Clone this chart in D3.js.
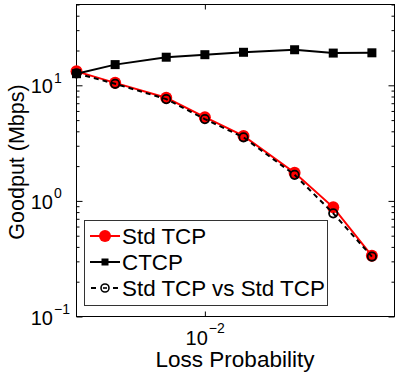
<!DOCTYPE html>
<html>
<head>
<meta charset="utf-8">
<script src="https://cdn.jsdelivr.net/npm/d3@7"></script>
<style>
  body { margin: 0; background: #fff; }
  svg { display: block; font-family: "Liberation Sans", Arial, Helvetica, sans-serif; }
</style>
</head>
<body>
<div id="chart"></div>
<script>
// data
const lossProb = [0.001, 0.002, 0.005, 0.01, 0.02, 0.05, 0.1, 0.2];
const stdTcp = [13.2, 10.5, 7.8, 5.3, 3.65, 1.75, 0.88, 0.335];
const ctcp = [12.6, 15.1, 17.5, 18.4, 19.3, 20.3, 19.0, 19.1];
const stdVsStd = [12.7, 10.3, 7.6, 5.1, 3.55, 1.68, 0.78, 0.33];
const xTickVals = [0.01];
const yTickVals = [0.1, 1, 10];
const seriesNames = ['Std TCP', 'CTCP', 'Std TCP vs Std TCP'];

const width = 399, height = 373;
const box = { left: 76.5, right: 394.5, top: 4.5, bottom: 316.5 };

const svg = d3.select('#chart')
  .append('svg')
  .attr('width', width)
  .attr('height', height);

const x = d3.scaleLog().domain([0.001, 0.3]).range([box.left, box.right]);
const y = d3.scaleLog().domain([0.1, 50]).range([box.bottom, box.top]);

// ticks (inward, mirrored on the opposite side)
const isMajor = v => Math.abs(Math.log10(v) - Math.round(Math.log10(v))) < 1e-9;
const yMinor = y.ticks().filter(v => !isMajor(v));

function tickGroup(axis, tx, ty) {
  const g = svg.append('g')
    .attr('transform', `translate(${tx},${ty})`)
    .call(axis);
  g.select('.domain').remove();
  g.selectAll('text').remove();
  g.selectAll('line').attr('stroke', '#000').attr('stroke-width', 1);
  return g;
}

tickGroup(d3.axisLeft(y).tickValues(yTickVals).tickSize(-6), box.left, 0);
tickGroup(d3.axisLeft(y).tickValues(yMinor).tickSize(-3), box.left, 0);
tickGroup(d3.axisRight(y).tickValues(yTickVals).tickSize(-6), box.right, 0);
tickGroup(d3.axisRight(y).tickValues(yMinor).tickSize(-3), box.right, 0);
tickGroup(d3.axisBottom(x).tickValues(xTickVals).tickSize(-5), 0, box.bottom);
tickGroup(d3.axisTop(x).tickValues(xTickVals).tickSize(-5), 0, box.top);

// box
svg.append('rect')
  .attr('x', box.left)
  .attr('y', box.top)
  .attr('width', box.right - box.left)
  .attr('height', box.bottom - box.top)
  .attr('fill', 'none')
  .attr('stroke', '#000')
  .attr('stroke-width', 1);

// y tick labels 10^n
yTickVals.forEach(v => {
  const yy = y(v);
  svg.append('text')
    .attr('x', 53)
    .attr('y', yy + 8)
    .attr('text-anchor', 'end')
    .style('font-size', '20px')
    .text('10');
  svg.append('text')
    .attr('x', 54)
    .attr('y', yy - 2.5)
    .style('font-size', '14px')
    .text(String(Math.round(Math.log10(v))).replace('-', '\u2212'));
});

// x tick labels
xTickVals.forEach(v => {
  const xx = x(v);
  svg.append('text')
    .attr('x', xx + 3)
    .attr('y', 345)
    .attr('text-anchor', 'end')
    .style('font-size', '20px')
    .text('10');
  svg.append('text')
    .attr('x', xx + 4)
    .attr('y', 333)
    .style('font-size', '14px')
    .text(String(Math.round(Math.log10(v))).replace('-', '\u2212'));
});

// axis labels
svg.append('text')
  .attr('x', 235)
  .attr('y', 367)
  .attr('text-anchor', 'middle')
  .style('font-size', '22.5px')
  .text('Loss Probability');

svg.append('text')
  .attr('transform', 'translate(24,162) rotate(-90)')
  .attr('text-anchor', 'middle')
  .style('font-size', '21.5px')
  .text('Goodput (Mbps)');

// series
const line = d3.line()
  .x(d => x(d[0]))
  .y(d => y(d[1]));

const zip = vals => lossProb.map((p, i) => [p, vals[i]]);

const plot = svg.append('g');

// Std TCP
plot.append('path')
  .datum(zip(stdTcp))
  .attr('d', line)
  .attr('fill', 'none')
  .attr('stroke', '#ff0000')
  .attr('stroke-width', 2);
plot.selectAll('.red-dot')
  .data(zip(stdTcp))
  .enter()
  .append('circle')
  .attr('class', 'red-dot')
  .attr('cx', d => x(d[0]))
  .attr('cy', d => y(d[1]))
  .attr('r', 6)
  .attr('fill', '#ff0000');

// CTCP
plot.append('path')
  .datum(zip(ctcp))
  .attr('d', line)
  .attr('fill', 'none')
  .attr('stroke', '#000')
  .attr('stroke-width', 2);
plot.selectAll('.ctcp-sq')
  .data(zip(ctcp))
  .enter()
  .append('rect')
  .attr('class', 'ctcp-sq')
  .attr('x', d => x(d[0]) - 4.5)
  .attr('y', d => y(d[1]) - 4.5)
  .attr('width', 9)
  .attr('height', 9)
  .attr('fill', '#000');

// Std TCP vs Std TCP
plot.append('path')
  .datum(zip(stdVsStd))
  .attr('d', line)
  .attr('fill', 'none')
  .attr('stroke', '#000')
  .attr('stroke-width', 2)
  .attr('stroke-dasharray', '5,4');
plot.selectAll('.vs-dot')
  .data(zip(stdVsStd))
  .enter()
  .append('circle')
  .attr('class', 'vs-dot')
  .attr('cx', d => x(d[0]))
  .attr('cy', d => y(d[1]))
  .attr('r', 4.2)
  .attr('fill', 'none')
  .attr('stroke', '#000')
  .attr('stroke-width', 1.8);

// legend
const legend = svg.append('g');
legend.append('rect')
  .attr('x', 84.5)
  .attr('y', 220.5)
  .attr('width', 243)
  .attr('height', 85)
  .attr('fill', '#fff')
  .attr('stroke', '#333')
  .attr('stroke-width', 1);

const rowY = [236, 262, 288];
seriesNames.forEach((name, i) => {
  const ry = rowY[i];
  const sample = legend.append('line')
    .attr('x1', 90).attr('x2', 120)
    .attr('y1', ry).attr('y2', ry)
    .attr('stroke', i === 0 ? '#ff0000' : '#000')
    .attr('stroke-width', 2);
  if (i === 2) sample.attr('stroke-dasharray', '5,6').attr('x1', 91);
  if (i === 0) {
    legend.append('circle').attr('cx', 105).attr('cy', ry).attr('r', 6).attr('fill', '#ff0000');
  } else if (i === 1) {
    legend.append('rect').attr('x', 101.5).attr('y', ry - 3.5).attr('width', 7).attr('height', 7).attr('fill', '#000');
  } else {
    legend.append('circle').attr('cx', 105).attr('cy', ry).attr('r', 4)
      .attr('fill', '#fff').attr('stroke', '#000').attr('stroke-width', 1.6);
    legend.append('line').attr('x1', 103).attr('x2', 107).attr('y1', ry).attr('y2', ry)
      .attr('stroke', '#000').attr('stroke-width', 1.6);
  }
  legend.append('text')
    .attr('x', 122)
    .attr('y', ry + 8)
    .style('font-size', '22.4px')
    .text(name);
});
</script>
</body>
</html>
